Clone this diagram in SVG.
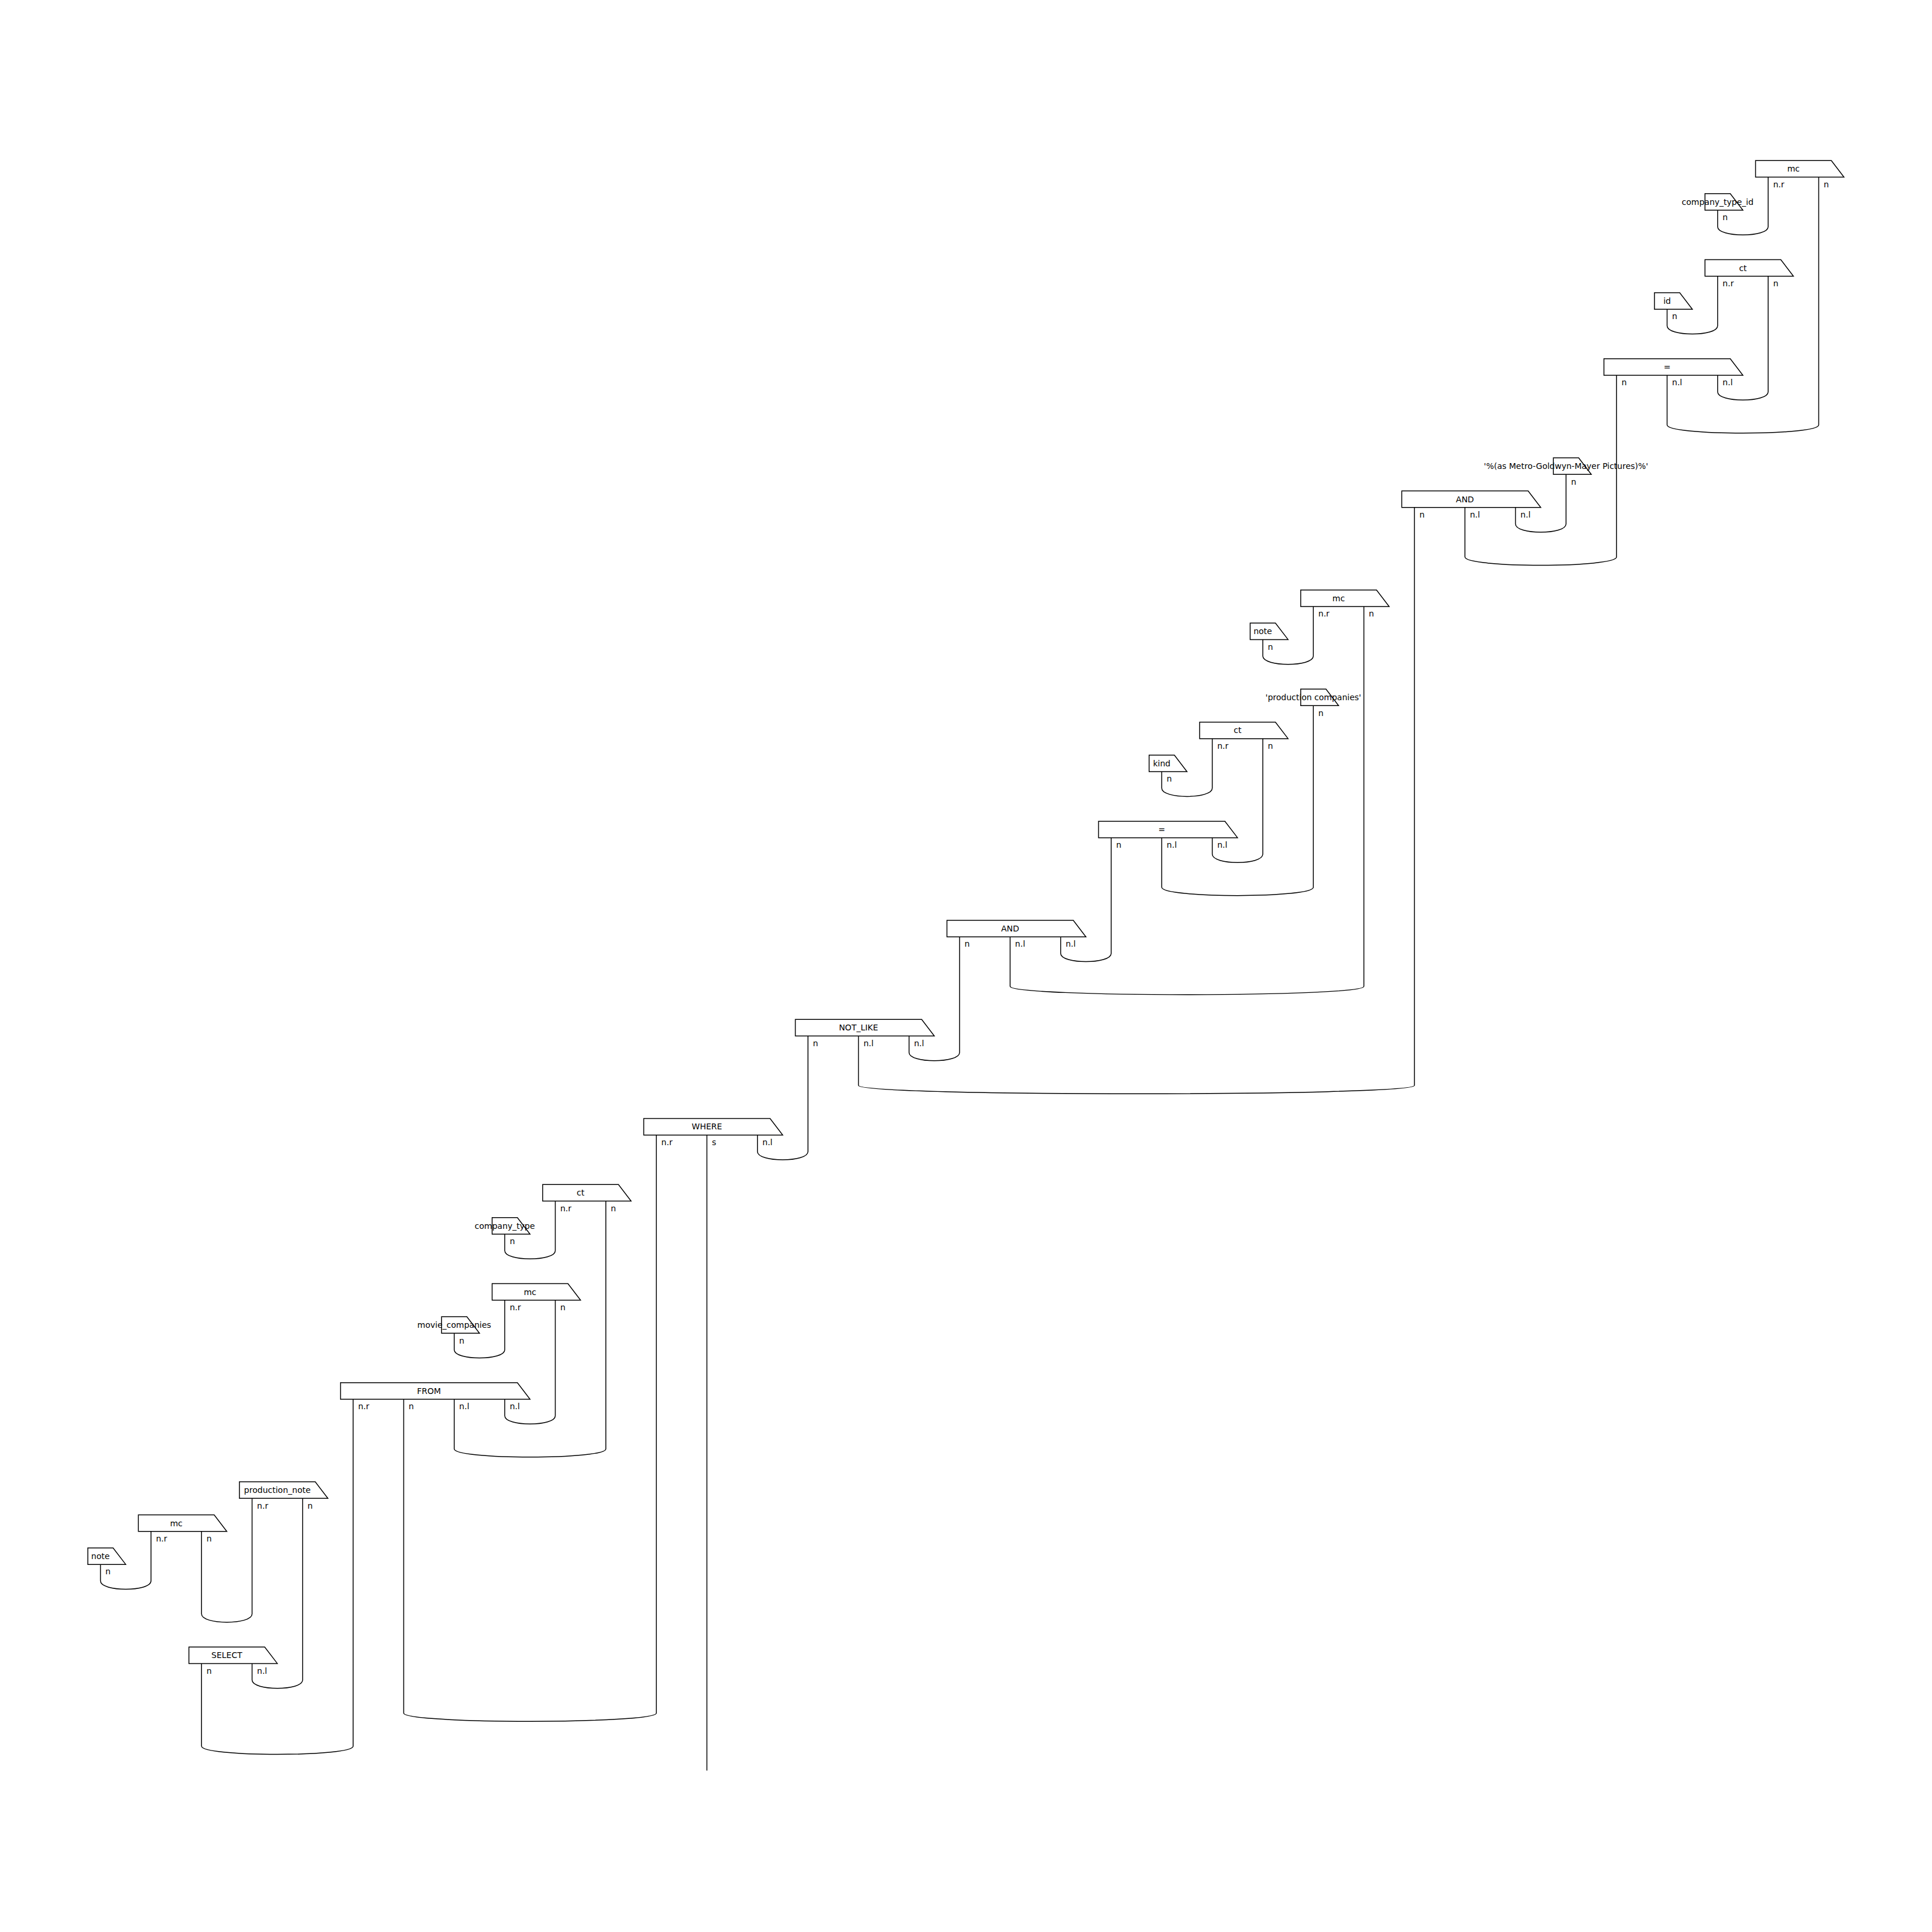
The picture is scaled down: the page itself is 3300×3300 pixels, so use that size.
<svg xmlns="http://www.w3.org/2000/svg" width="3300" height="3300" viewBox="0 0 3300 3300">
<style>
.bg{fill:#fff}
.n1,.n2,.n3,.n4{fill:#fff;stroke:#000;stroke-width:1.5}
.lbl{font-family:"DejaVu Sans","Liberation Sans",sans-serif;font-size:14px;text-anchor:middle;fill:#000}
.pl{font-family:"DejaVu Sans","Liberation Sans",sans-serif;font-size:14px;text-anchor:start;fill:#000}
.wires path{fill:none;stroke:#000;stroke-width:1.5}
</style>
<defs>
<polygon id="s1" points="0,0 43.16,0 64.74,28.21 0,28.21"/>
<polygon id="s2" points="0,0 129.48,0 151.06,28.21 0,28.21"/>
<polygon id="s3" points="0,0 215.8,0 237.38,28.21 0,28.21"/>
<polygon id="s4" points="0,0 302.12,0 323.7,28.21 0,28.21"/>
</defs>
<rect class="bg" x="0" y="0" width="3300" height="3300"/>
<g id="connectors" class="wires">
<path d="M2933.84,358.93 V387.14 C2933.84,405.94 3020.16,405.94 3020.16,387.14 V302.51"/>
<path d="M2847.52,528.19 V556.4 C2847.52,575.2 2933.84,575.2 2933.84,556.4 V471.77"/>
<path d="M2933.84,641.03 V669.24 C2933.84,688.04 3020.16,688.04 3020.16,669.24 V471.77"/>
<path d="M2847.52,641.03 V725.66 C2847.52,744.46 3106.48,744.46 3106.48,725.66 V302.51"/>
<path d="M2588.56,866.71 V894.92 C2588.56,913.72 2674.88,913.72 2674.88,894.92 V810.29"/>
<path d="M2502.24,866.71 V951.34 C2502.24,970.14 2761.2,970.14 2761.2,951.34 V641.03"/>
<path d="M2156.96,1092.39 V1120.6 C2156.96,1139.4 2243.28,1139.4 2243.28,1120.6 V1035.97"/>
<path d="M1984.32,1318.07 V1346.28 C1984.32,1365.08 2070.64,1365.08 2070.64,1346.28 V1261.65"/>
<path d="M2070.64,1430.91 V1459.12 C2070.64,1477.92 2156.96,1477.92 2156.96,1459.12 V1261.65"/>
<path d="M1984.32,1430.91 V1515.54 C1984.32,1534.34 2243.28,1534.34 2243.28,1515.54 V1205.23"/>
<path d="M1811.68,1600.17 V1628.38 C1811.68,1647.18 1898,1647.18 1898,1628.38 V1430.91"/>
<path d="M1725.36,1600.17 V1684.8 C1725.36,1703.6 2329.6,1703.6 2329.6,1684.8 V1035.97"/>
<path d="M1552.72,1769.43 V1797.64 C1552.72,1816.44 1639.04,1816.44 1639.04,1797.64 V1600.17"/>
<path d="M1466.4,1769.43 V1854.06 C1466.4,1872.86 2415.92,1872.86 2415.92,1854.06 V866.71"/>
<path d="M1293.76,1938.69 V1966.9 C1293.76,1985.7 1380.08,1985.7 1380.08,1966.9 V1769.43"/>
<path d="M862.16,2107.95 V2136.16 C862.16,2154.96 948.48,2154.96 948.48,2136.16 V2051.53"/>
<path d="M775.84,2277.21 V2305.42 C775.84,2324.22 862.16,2324.22 862.16,2305.42 V2220.79"/>
<path d="M862.16,2390.05 V2418.26 C862.16,2437.06 948.48,2437.06 948.48,2418.26 V2220.79"/>
<path d="M775.84,2390.05 V2474.68 C775.84,2493.48 1034.8,2493.48 1034.8,2474.68 V2051.53"/>
<path d="M171.6,2672.15 V2700.36 C171.6,2719.16 257.92,2719.16 257.92,2700.36 V2615.73"/>
<path d="M344.24,2615.73 V2756.78 C344.24,2775.58 430.56,2775.58 430.56,2756.78 V2559.31"/>
<path d="M430.56,2841.41 V2869.62 C430.56,2888.42 516.88,2888.42 516.88,2869.62 V2559.31"/>
<path d="M689.52,2390.05 V2926.04 C689.52,2944.84 1121.12,2944.84 1121.12,2926.04 V1938.69"/>
<path d="M344.24,2841.41 V2982.46 C344.24,3001.26 603.2,3001.26 603.2,2982.46 V2390.05"/>
<path d="M1207.44,1938.69 V3024.3"/>
</g>
<g id="node-mc-1" transform="translate(2998.58,274.3)"><use href="#s2" class="n2"/><text class="lbl" x="64.74" y="19">mc</text><text class="pl" x="30.08" y="45.5">n.r</text><text class="pl" x="116.4" y="45.5">n</text></g>
<g id="node-company_type_id" transform="translate(2912.26,330.72)"><use href="#s1" class="n1"/><text class="lbl" x="21.58" y="19">company_type_id</text><text class="pl" x="30.08" y="45.5">n</text></g>
<g id="node-ct-1" transform="translate(2912.26,443.56)"><use href="#s2" class="n2"/><text class="lbl" x="64.74" y="19">ct</text><text class="pl" x="30.08" y="45.5">n.r</text><text class="pl" x="116.4" y="45.5">n</text></g>
<g id="node-id" transform="translate(2825.94,499.98)"><use href="#s1" class="n1"/><text class="lbl" x="21.58" y="19">id</text><text class="pl" x="30.08" y="45.5">n</text></g>
<g id="node-eq-1" transform="translate(2739.62,612.82)"><use href="#s3" class="n3"/><text class="lbl" x="107.9" y="19">=</text><text class="pl" x="30.08" y="45.5">n</text><text class="pl" x="116.4" y="45.5">n.l</text><text class="pl" x="202.72" y="45.5">n.l</text></g>
<g id="node-mgm" transform="translate(2653.3,782.08)"><use href="#s1" class="n1"/><text class="lbl" x="21.58" y="19">'%(as Metro-Goldwyn-Mayer Pictures)%'</text><text class="pl" x="30.08" y="45.5">n</text></g>
<g id="node-and-1" transform="translate(2394.34,838.5)"><use href="#s3" class="n3"/><text class="lbl" x="107.9" y="19">AND</text><text class="pl" x="30.08" y="45.5">n</text><text class="pl" x="116.4" y="45.5">n.l</text><text class="pl" x="202.72" y="45.5">n.l</text></g>
<g id="node-mc-2" transform="translate(2221.7,1007.76)"><use href="#s2" class="n2"/><text class="lbl" x="64.74" y="19">mc</text><text class="pl" x="30.08" y="45.5">n.r</text><text class="pl" x="116.4" y="45.5">n</text></g>
<g id="node-note-1" transform="translate(2135.38,1064.18)"><use href="#s1" class="n1"/><text class="lbl" x="21.58" y="19">note</text><text class="pl" x="30.08" y="45.5">n</text></g>
<g id="node-prodcomp" transform="translate(2221.7,1177.02)"><use href="#s1" class="n1"/><text class="lbl" x="21.58" y="19">'production companies'</text><text class="pl" x="30.08" y="45.5">n</text></g>
<g id="node-ct-2" transform="translate(2049.06,1233.44)"><use href="#s2" class="n2"/><text class="lbl" x="64.74" y="19">ct</text><text class="pl" x="30.08" y="45.5">n.r</text><text class="pl" x="116.4" y="45.5">n</text></g>
<g id="node-kind" transform="translate(1962.74,1289.86)"><use href="#s1" class="n1"/><text class="lbl" x="21.58" y="19">kind</text><text class="pl" x="30.08" y="45.5">n</text></g>
<g id="node-eq-2" transform="translate(1876.42,1402.7)"><use href="#s3" class="n3"/><text class="lbl" x="107.9" y="19">=</text><text class="pl" x="30.08" y="45.5">n</text><text class="pl" x="116.4" y="45.5">n.l</text><text class="pl" x="202.72" y="45.5">n.l</text></g>
<g id="node-and-2" transform="translate(1617.46,1571.96)"><use href="#s3" class="n3"/><text class="lbl" x="107.9" y="19">AND</text><text class="pl" x="30.08" y="45.5">n</text><text class="pl" x="116.4" y="45.5">n.l</text><text class="pl" x="202.72" y="45.5">n.l</text></g>
<g id="node-not_like" transform="translate(1358.5,1741.22)"><use href="#s3" class="n3"/><text class="lbl" x="107.9" y="19">NOT_LIKE</text><text class="pl" x="30.08" y="45.5">n</text><text class="pl" x="116.4" y="45.5">n.l</text><text class="pl" x="202.72" y="45.5">n.l</text></g>
<g id="node-where" transform="translate(1099.54,1910.48)"><use href="#s3" class="n3"/><text class="lbl" x="107.9" y="19">WHERE</text><text class="pl" x="30.08" y="45.5">n.r</text><text class="pl" x="116.4" y="45.5">s</text><text class="pl" x="202.72" y="45.5">n.l</text></g>
<g id="node-ct-3" transform="translate(926.9,2023.32)"><use href="#s2" class="n2"/><text class="lbl" x="64.74" y="19">ct</text><text class="pl" x="30.08" y="45.5">n.r</text><text class="pl" x="116.4" y="45.5">n</text></g>
<g id="node-company_type" transform="translate(840.58,2079.74)"><use href="#s1" class="n1"/><text class="lbl" x="21.58" y="19">company_type</text><text class="pl" x="30.08" y="45.5">n</text></g>
<g id="node-mc-3" transform="translate(840.58,2192.58)"><use href="#s2" class="n2"/><text class="lbl" x="64.74" y="19">mc</text><text class="pl" x="30.08" y="45.5">n.r</text><text class="pl" x="116.4" y="45.5">n</text></g>
<g id="node-movie_companies" transform="translate(754.26,2249)"><use href="#s1" class="n1"/><text class="lbl" x="21.58" y="19">movie_companies</text><text class="pl" x="30.08" y="45.5">n</text></g>
<g id="node-from" transform="translate(581.62,2361.84)"><use href="#s4" class="n4"/><text class="lbl" x="151.06" y="19">FROM</text><text class="pl" x="30.08" y="45.5">n.r</text><text class="pl" x="116.4" y="45.5">n</text><text class="pl" x="202.72" y="45.5">n.l</text><text class="pl" x="289.04" y="45.5">n.l</text></g>
<g id="node-production_note" transform="translate(408.98,2531.1)"><use href="#s2" class="n2"/><text class="lbl" x="64.74" y="19">production_note</text><text class="pl" x="30.08" y="45.5">n.r</text><text class="pl" x="116.4" y="45.5">n</text></g>
<g id="node-mc-4" transform="translate(236.34,2587.52)"><use href="#s2" class="n2"/><text class="lbl" x="64.74" y="19">mc</text><text class="pl" x="30.08" y="45.5">n.r</text><text class="pl" x="116.4" y="45.5">n</text></g>
<g id="node-note-2" transform="translate(150.02,2643.94)"><use href="#s1" class="n1"/><text class="lbl" x="21.58" y="19">note</text><text class="pl" x="30.08" y="45.5">n</text></g>
<g id="node-select" transform="translate(322.66,2813.2)"><use href="#s2" class="n2"/><text class="lbl" x="64.74" y="19">SELECT</text><text class="pl" x="30.08" y="45.5">n</text><text class="pl" x="116.4" y="45.5">n.l</text></g>
</svg>
